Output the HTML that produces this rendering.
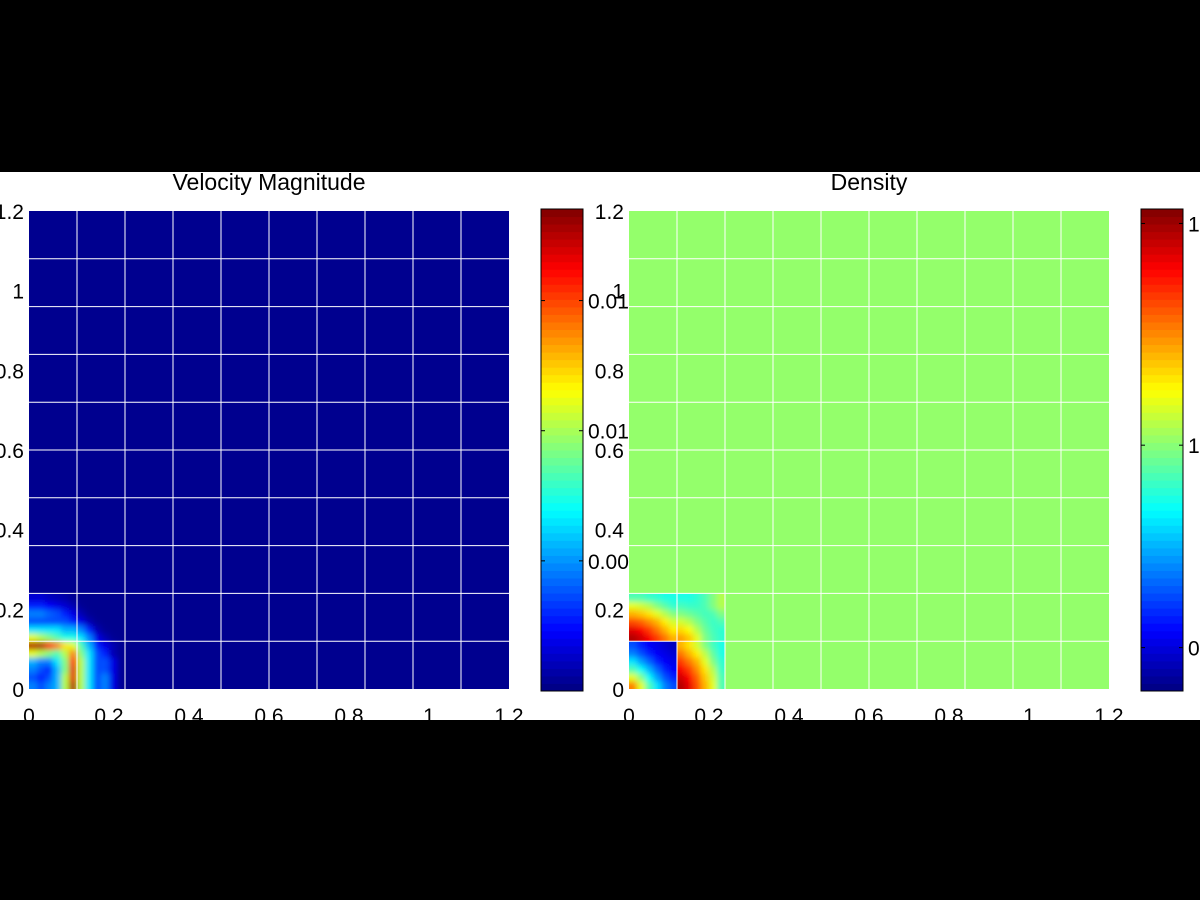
<!DOCTYPE html>
<html><head><meta charset="utf-8"><style>
body{margin:0;background:#000;width:1200px;height:900px;overflow:hidden}
svg{display:block}
text{font-family:"Liberation Sans",sans-serif;fill:#000}
</style></head><body>
<svg id="fig" width="1200" height="900" xmlns="http://www.w3.org/2000/svg">
<defs><filter id="blur" x="-5%" y="-5%" width="110%" height="110%"><feGaussianBlur stdDeviation="3"/></filter></defs>
<rect x="0" y="0" width="1200" height="900" fill="#000"/>
<rect x="0" y="172" width="1200" height="548" fill="#fff"/>
<g id="panels"></g>
</svg>
<script>
const ticks=[0,0.2,0.4,0.6,0.8,1,1.2];
const tickLabels=["0","0.2","0.4","0.6","0.8","1","1.2"];
const gridStep=0.12;
const cellSize=0.02;
const velBackground=0.015;
const velocityRows=[
[0.25,0.2,0.25,0.3,0.55,0.95,0.55,0.35,0.2,0.25,0.1,0.02],
[0.2,0.15,0.2,0.3,0.55,0.9,0.55,0.35,0.2,0.25,0.1,0.02],
[0.25,0.2,0.15,0.3,0.5,0.9,0.55,0.35,0.2,0.2,0.1,0.02],
[0.3,0.25,0.25,0.35,0.5,0.85,0.55,0.35,0.2,0.2,0.1,0.02],
[0.6,0.55,0.5,0.45,0.55,0.75,0.5,0.35,0.2,0.15,0.05,0.02],
[0.95,0.95,0.85,0.75,0.65,0.6,0.45,0.3,0.15,0.1,0.05,0.02],
[0.6,0.55,0.5,0.45,0.4,0.4,0.35,0.25,0.1,0.05,0.02,0.015],
[0.35,0.35,0.35,0.35,0.3,0.3,0.25,0.15,0.05,0.02,0.015,0.015],
[0.2,0.2,0.2,0.2,0.2,0.15,0.1,0.05,0.02,0.015,0.015,0.015],
[0.25,0.25,0.22,0.2,0.15,0.1,0.05,0.02,0.015,0.015,0.015,0.015],
[0.15,0.15,0.12,0.1,0.08,0.05,0.02,0.015,0.015,0.015,0.015,0.015],
[0.08,0.08,0.06,0.05,0.04,0.02,0.015,0.015,0.015,0.015,0.015,0.015]];
const densBackground=0.52;
const densityRows=[
[0.75,0.6,0.45,0.35,0.25,0.2, 0.95,0.9,0.8,0.7,0.6,0.45],
[0.6,0.5,0.38,0.28,0.2,0.15, 0.92,0.87,0.78,0.68,0.58,0.45],
[0.45,0.38,0.3,0.22,0.15,0.12, 0.88,0.82,0.74,0.65,0.55,0.43],
[0.35,0.28,0.22,0.15,0.12,0.1, 0.82,0.76,0.7,0.6,0.5,0.42],
[0.25,0.2,0.15,0.12,0.1,0.08, 0.76,0.7,0.64,0.56,0.47,0.4],
[0.2,0.15,0.12,0.1,0.08,0.06, 0.7,0.65,0.58,0.5,0.44,0.4],
[0.95,0.92,0.88,0.82,0.76,0.7, 0.72,0.68,0.6,0.5,0.45,0.42],
[0.9,0.87,0.82,0.76,0.7,0.64, 0.66,0.62,0.55,0.48,0.44,0.42],
[0.8,0.78,0.74,0.7,0.64,0.58, 0.58,0.55,0.5,0.46,0.43,0.45],
[0.7,0.68,0.65,0.6,0.55,0.5, 0.5,0.48,0.46,0.44,0.45,0.5],
[0.6,0.58,0.55,0.5,0.46,0.42, 0.44,0.43,0.43,0.45,0.5,0.55],
[0.45,0.45,0.43,0.42,0.4,0.4, 0.4,0.4,0.42,0.45,0.5,0.55]];
const velCbTicks=[0.27,0.54,0.81];
const velCbLabels=["0.00","0.01","0.01"];
const densCbTicks=[0.09,0.51,0.97];
const densCbLabels=["0","1","1"];

const NS="http://www.w3.org/2000/svg";
function jet(v){const c=t=>Math.round(255*Math.max(0,Math.min(1,t)));
 return `rgb(${c(1.5-Math.abs(4*v-3))},${c(1.5-Math.abs(4*v-2))},${c(1.5-Math.abs(4*v-1))})`;}
function mk(tag,attrs,parent){const e=document.createElementNS(NS,tag);for(const k in attrs)e.setAttribute(k,attrs[k]);parent.appendChild(e);return e;}
const root=document.getElementById('panels');
const defs=document.querySelector('defs');
let clipId=0;
function panel(x0,title,rows,bg,cbx,cbTicks,cbLabels,name,quadrants){
 const top=211,bottom=689,w=480,h=478;
 const sx=v=>x0+v/1.2*w, sy=v=>bottom-v/1.2*h;
 const g=mk('g',{},root);
 
 
 const t=mk('text',{x:x0+w/2,y:190,'text-anchor':'middle','font-size':23},g);t.textContent=title;
 
 
 const bgr=mk('rect',{x:x0,y:top,width:w,height:h,fill:jet(bg)},g);
 
 
 const nr=rows.length, nc=rows[0].length;
 const groups=quadrants?[[0,6,0,6],[0,6,6,12],[6,12,0,6],[6,12,6,12]]:[[0,nr,0,nc]];
 groups.forEach(([r0,r1,c0,c1])=>{
  const id='clip'+(clipId++);
  const cp=mk('clipPath',{id},defs);
  mk('rect',{x:sx(c0*cellSize),y:sy(r1*cellSize),width:sx(c1*cellSize)-sx(c0*cellSize),height:sy(r0*cellSize)-sy(r1*cellSize)},cp);
  const outer=mk('g',{'clip-path':`url(#${id})`},g);
  const inner=mk('g',{filter:'url(#blur)'},outer);
  for(let i=r0-1;i<=r1;i++)for(let j=c0-1;j<=c1;j++){
   const ii=Math.max(r0,Math.min(r1-1,i)), jj=Math.max(c0,Math.min(c1-1,j));
   const v=rows[ii][jj];
   const r=mk('rect',{x:sx(j*cellSize),y:sy((i+1)*cellSize),width:sx((j+1)*cellSize)-sx(j*cellSize)+0.5,height:sy(i*cellSize)-sy((i+1)*cellSize)+0.5,fill:jet(v)},inner);
   
   
  }
 });
 for(let k=1;k<10;k++){
  const gx=mk('line',{x1:sx(k*gridStep),x2:sx(k*gridStep),y1:top,y2:bottom,stroke:'#fff','stroke-width':1},g);
  
  
  const gy=mk('line',{y1:sy(k*gridStep),y2:sy(k*gridStep),x1:x0,x2:x0+w,stroke:'#fff','stroke-width':1},g);
  
  
 }
 ticks.forEach((v,i)=>{
  const a=mk('text',{x:sx(v),y:723,'text-anchor':'middle','font-size':21},g);a.textContent=tickLabels[i];
  
  
  const b=mk('text',{x:x0-5,y:sy(v)+8,'text-anchor':'end','font-size':21},g);b.textContent=tickLabels[i];
  
  
 });
 const cg=mk('g',{},g);
 
 
 const ct=209,cb=691,cw=42,n=64;
 for(let k=0;k<n;k++){
  const y1=cb-(k+1)*(cb-ct)/n;
  mk('rect',{x:cbx,y:y1,width:cw,height:(cb-ct)/n+0.5,fill:jet((k+0.5)/n)},cg);
 }
 mk('rect',{x:cbx,y:ct,width:cw,height:cb-ct,fill:'none',stroke:'#000','stroke-width':1},cg);
 cbTicks.forEach((v,i)=>{
  const y=cb-v*(cb-ct);
  mk('line',{x1:cbx,x2:cbx+4,y1:y,y2:y,stroke:'#000'},cg);
  mk('line',{x1:cbx+cw-4,x2:cbx+cw,y1:y,y2:y,stroke:'#000'},cg);
  const l=mk('text',{x:cbx+cw+5,y:y+8,'font-size':21},cg);l.textContent=cbLabels[i];
  
  
 });
}
panel(29,"Velocity Magnitude",velocityRows,velBackground,541,velCbTicks,velCbLabels,'velocity',false);
panel(629,"Density",densityRows,densBackground,1141,densCbTicks,densCbLabels,'density',true);
</script>
</body></html>
